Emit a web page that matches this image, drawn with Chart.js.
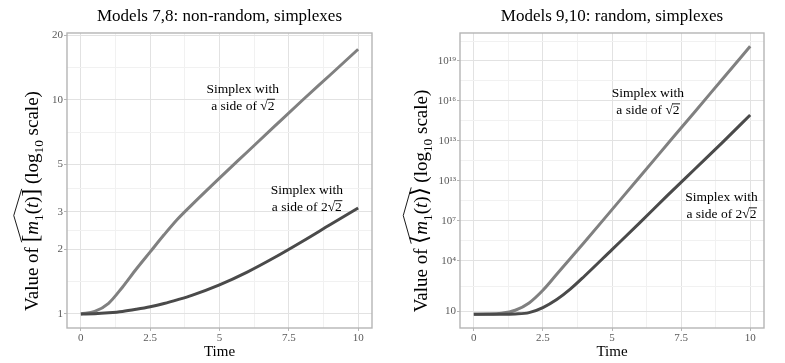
<!DOCTYPE html>
<html>
<head>
<meta charset="utf-8">
<script src="https://cdn.jsdelivr.net/npm/chart.js@4.4.1/dist/chart.umd.min.js"></script>
<style>
    html, body { margin: 0; padding: 0; background: #fff; }
    #wrap { position: relative; width: 785px; height: 363px; }
    .panel { position: absolute; top: 0; height: 363px; }
</style>
</head>
<body>
<div id="wrap">
    <div class="panel" style="left:0;width:392px"><canvas id="leftChart" width="392" height="363"></canvas></div>
    <div class="panel" style="left:392px;width:393px"><canvas id="rightChart" width="393" height="363"></canvas></div>
</div>
<script>
// ============================================
// Data
// ============================================

const leftTime = [0, 0.5, 1, 1.5, 2, 2.5, 3, 3.5, 4, 5, 6, 7, 8, 9, 10];
const leftSqrt2 = [1, 1.028, 1.122, 1.334, 1.622, 1.95, 2.344, 2.786, 3.236, 4.315, 5.715, 7.568, 10.0, 13.12, 17.26];
const left2Sqrt2 = [1, 1.003, 1.013, 1.028, 1.052, 1.081, 1.119, 1.167, 1.222, 1.368, 1.57, 1.841, 2.188, 2.618, 3.126];

const rightTime = [0, 0.5, 1, 1.5, 2, 2.5, 3, 3.5, 4, 5, 6, 7, 8, 9, 10];
const rightSqrt2 = [1, 1.023, 1.175, 2.0, 7.08, 63.1, 1.0e3, 1.58e4, 2.51e5, 7.08e7, 2.0e10, 5.62e12, 1.58e15, 4.47e17, 1.26e20];
const right2Sqrt2 = [1, 1, 1, 1.047, 1.318, 3.16, 12.6, 79.4, 708, 7.08e4, 7.08e6, 7.94e8, 7.94e10, 7.94e12, 8.91e14];

const xTicks = [0, 2.5, 5, 7.5, 10];
const xTickLabels = ["0", "2.5", "5", "7.5", "10"];
const xMinor = [1.25, 3.75, 6.25, 8.75];

const leftYTicks = [1, 2, 3, 5, 10, 20];
const leftYTickLabels = ["1", "2", "3", "5", "10", "20"];
const leftYMinor = [1.414, 2.449, 3.873, 7.071, 14.14];

const rightYTicks = [1.7, 1e4, 1e7, 1e10, 1e13, 1e16, 1e19];
const rightYTickLabels = ["10", "10⁴", "10⁷", "10¹³", "10¹³", "10¹⁶", "10¹⁹"];
const rightYMinor = [130, 3.16e5, 3.16e8, 3.16e11, 3.16e14, 3.16e17, 3.16e20];

// label anchors (time, value)
const leftNoteTime = [5.84, 8.15];
const leftNoteValue = [10.36, 3.48];
const rightNoteTime = [6.3, 8.96];
const rightNoteValue = [9.5e15, 1.5e8];

// ============================================
// Styles
// ============================================

const SERIF = "'Liberation Serif', 'Times New Roman', serif";
const LIGHT = "#808080";
const DARK = "#4a4a4a";
const GRID_MAJOR = "#e2e2e2";
const GRID_MINOR = "#f1f1f1";
const TICK_TEXT = "#5a5a5a";

// ============================================
// Rich text helper (subscripts, italics, radical bar)
// ============================================

function drawRich(ctx, segs, x, y, size) {
    const items = segs.map((s) => {
        let fs = size;
        if (s.sub || s.sup) fs = size * 0.7;
        if (s.big) fs = size * 1.2;
        const font = (s.i ? "italic " : "") + fs + "px " + SERIF;
        ctx.font = font;
        return { s, font, w: ctx.measureText(s.t).width };
    });
    const total = items.reduce((a, it) => a + it.w, 0);
    let cx = x - total / 2;
    ctx.textAlign = "left";
    ctx.textBaseline = "alphabetic";
    items.forEach((it) => {
        it.x0 = cx;
        it.x1 = cx + it.w;
        const dy = it.s.sub ? size * 0.28 : it.s.sup ? -size * 0.4 : 0;
        ctx.font = it.font;
        ctx.fillText(it.s.t, cx, y + dy);
        cx += it.w;
    });
    return items;
}

const panelBorder = {
    id: "panelBorder",
    afterDatasetsDraw(chart) {
        const { ctx, chartArea: a } = chart;
        ctx.save();
        ctx.strokeStyle = "#b5b5b5";
        ctx.lineWidth = 1.4;
        ctx.strokeRect(a.left, a.top, a.right - a.left, a.bottom - a.top);
        ctx.restore();
    },
};

const yLabel = {
    id: "yLabel",
    afterDraw(chart, args, o) {
        const ctx = chart.ctx;
        ctx.save();
        ctx.translate(o.x, o.y);
        ctx.rotate(-Math.PI / 2);
        ctx.fillStyle = "#000";
        const items = drawRich(ctx, o.segs, 0, 0, o.size);
        const a = items.find((it) => it.s.hat === "start");
        const b = items.find((it) => it.s.hat === "end");
        ctx.strokeStyle = "#000";
        ctx.lineWidth = 0.9;
        ctx.beginPath();
        ctx.moveTo(a.x0, -o.size * 0.83);
        ctx.lineTo((a.x0 + b.x1) / 2, -o.size * 1.25);
        ctx.lineTo(b.x1, -o.size * 0.83);
        ctx.stroke();
        ctx.restore();
    },
};

const notes = {
    id: "notes",
    afterDatasetsDraw(chart, args, o) {
        const { ctx, scales: { x, y } } = chart;
        ctx.save();
        ctx.fillStyle = "#000";
        ctx.strokeStyle = "#000";
        o.times.forEach((t, i) => {
            const px = x.getPixelForValue(t);
            const py = y.getPixelForValue(o.values[i]);
            const lines = o.lines[i];
            lines.forEach((segs, k) => {
                const base = py + (k - (lines.length - 1) / 2) * 17 + 4.6;
                const items = drawRich(ctx, segs, px, base, o.size);
                items.filter((it) => it.s.bar).forEach((it) => {
                    ctx.lineWidth = 0.9;
                    ctx.beginPath();
                    ctx.moveTo(it.x0 - 0.5, base - o.size * 0.78);
                    ctx.lineTo(it.x1 + 0.5, base - o.size * 0.78);
                    ctx.stroke();
                });
            });
        });
        ctx.restore();
    },
};

// ============================================
// Chart builder
// ============================================

function tickSetter(major, labels, minor) {
    return (scale) => {
        scale.ticks = major
            .map((v, i) => ({ value: v, major: true, text: labels[i] }))
            .concat(minor.map((v) => ({ value: v, major: false, text: "" })));
    };
}

function gridOpts() {
    return {
        color: (c) => (c.tick && !c.tick.major ? GRID_MINOR : GRID_MAJOR),
        lineWidth: 1,
        drawTicks: true,
        tickLength: 3,
        tickColor: (c) => (c.tick && !c.tick.major ? "rgba(0,0,0,0)" : "#b5b5b5"),
    };
}

function tickOpts(pad) {
    return {
        autoSkip: false,
        maxRotation: 0,
        padding: pad,
        color: TICK_TEXT,
        font: { family: SERIF, size: 11 },
        callback: (value, index, ticks) => ticks[index].text || "",
    };
}

function pairs(xs, ys) {
    return xs.map((x, i) => ({ x: x, y: ys[i] }));
}

function makeChart(id, cfg) {
    return new Chart(document.getElementById(id), {
        type: "line",
        data: {
            datasets: [
                {
                    data: pairs(cfg.time, cfg.dark),
                    borderColor: DARK,
                    borderWidth: 3,
                    pointRadius: 0,
                    cubicInterpolationMode: "monotone",
                    fill: false,
                },
                {
                    data: pairs(cfg.time, cfg.light),
                    borderColor: LIGHT,
                    borderWidth: 3,
                    pointRadius: 0,
                    cubicInterpolationMode: "monotone",
                    fill: false,
                },
            ],
        },
        options: {
            responsive: false,
            animation: false,
            devicePixelRatio: 1,
            layout: { padding: { left: 0, right: cfg.padRight, top: 0, bottom: 0 } },
            plugins: {
                legend: { display: false },
                tooltip: { enabled: false },
                title: {
                    display: true,
                    text: cfg.title,
                    fullSize: false,
                    color: "#000",
                    font: { family: SERIF, size: 17, weight: "normal" },
                    padding: { top: 6, bottom: 6.6 },
                },
                yLabel: { x: cfg.ylabX, y: 201, size: 19, segs: cfg.ylabSegs },
                notes: {
                    size: 13.5,
                    times: cfg.noteTime,
                    values: cfg.noteValue,
                    lines: [
                        [[{ t: "Simplex with" }], [{ t: "a side of " }, { t: "√" }, { t: "2", bar: true }]],
                        [[{ t: "Simplex with" }], [{ t: "a side of 2" }, { t: "√" }, { t: "2", bar: true }]],
                    ],
                },
            },
            scales: {
                x: {
                    type: "linear",
                    min: -0.5,
                    max: 10.5,
                    afterBuildTicks: tickSetter(xTicks, xTickLabels, xMinor),
                    afterFit: (s) => { s.height = 35; },
                    ticks: tickOpts(1),
                    grid: gridOpts(),
                    border: { display: false },
                    title: {
                        display: true,
                        text: "Time",
                        color: "#000",
                        font: { family: SERIF, size: 15 },
                        padding: { top: 0, bottom: 1.5 },
                    },
                },
                y: {
                    type: "logarithmic",
                    min: cfg.yMin,
                    max: cfg.yMax,
                    afterBuildTicks: tickSetter(cfg.yTicks, cfg.yLabels, cfg.yMinor),
                    afterFit: (s) => { s.width = cfg.yWidth; },
                    ticks: tickOpts(1),
                    grid: gridOpts(),
                    border: { display: false },
                },
            },
        },
        plugins: [panelBorder, yLabel, notes],
    });
}

makeChart("leftChart", {
    title: "Models 7,8: non-random, simplexes",
    time: leftTime,
    light: leftSqrt2,
    dark: left2Sqrt2,
    yMin: 0.86,
    yMax: 20.56,
    yTicks: leftYTicks,
    yLabels: leftYTickLabels,
    yMinor: leftYMinor,
    yWidth: 67,
    padRight: 20,
    ylabX: 37.5,
    noteTime: leftNoteTime,
    noteValue: leftNoteValue,
    ylabSegs: [
        { t: "Value of " }, { t: "[", hat: "start", big: true }, { t: "m", i: true }, { t: "1", sub: true },
        { t: "(" }, { t: "t", i: true }, { t: ")" }, { t: "]", hat: "end", big: true },
        { t: " (log" }, { t: "10", sub: true }, { t: " scale)" },
    ],
});

makeChart("rightChart", {
    title: "Models 9,10: random, simplexes",
    time: rightTime,
    light: rightSqrt2,
    dark: right2Sqrt2,
    yMin: 0.093,
    yMax: 1.26e21,
    yTicks: rightYTicks,
    yLabels: rightYTickLabels,
    yMinor: rightYMinor,
    yWidth: 68,
    padRight: 21,
    ylabX: 35,
    noteTime: rightNoteTime,
    noteValue: rightNoteValue,
    ylabSegs: [
        { t: "Value of " }, { t: "⟨", hat: "start", big: true }, { t: "m", i: true }, { t: "1", sub: true },
        { t: "(" }, { t: "t", i: true }, { t: ")" }, { t: "⟩", hat: "end", big: true },
        { t: " (log" }, { t: "10", sub: true }, { t: " scale)" },
    ],
});
</script>
</body>
</html>
